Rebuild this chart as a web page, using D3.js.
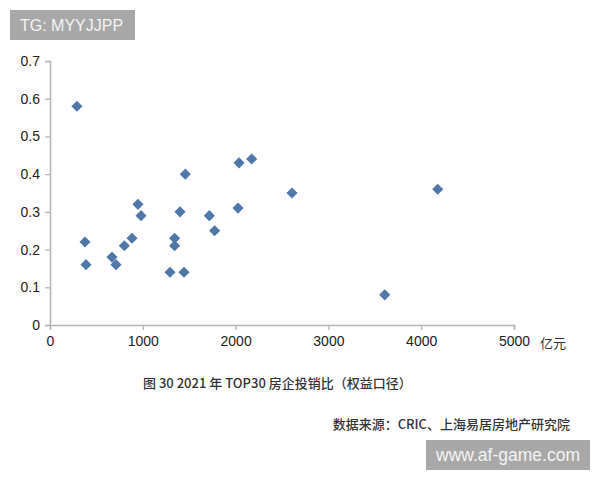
<!DOCTYPE html>
<html>
<head>
<meta charset="utf-8">
<script src="https://cdn.jsdelivr.net/npm/d3@7"></script>
<style>
  body { margin: 0; background: #fff; }
  svg { display: block; }
  .tick text { font-family: "Liberation Sans", Arial, sans-serif; font-size: 14px; fill: #222; }
</style>
</head>
<body>
<svg width="600" height="480"></svg>
<script>
// sales (亿元) vs investment/sales ratio
const sales = [290, 377, 388, 668, 711, 801, 884, 948, 981, 1293, 1343, 1343, 1401, 1444,
               1458, 1717, 1774, 2026, 2037, 2173, 2608, 3607, 4178];
const ratio = [0.58, 0.22, 0.16, 0.18, 0.16, 0.21, 0.23, 0.32, 0.29, 0.14, 0.23, 0.21, 0.30, 0.14,
               0.40, 0.29, 0.25, 0.31, 0.43, 0.44, 0.35, 0.08, 0.36];
const xTicks = [0, 1000, 2000, 3000, 4000, 5000];
const yTicks = [0, 0.1, 0.2, 0.3, 0.4, 0.5, 0.6, 0.7];

const svg = d3.select("svg");
const margin = {top: 61, right: 86, bottom: 155, left: 50};
const width = 600 - margin.left - margin.right;
const height = 480 - margin.top - margin.bottom;

const x = d3.scaleLinear().domain([0, 5000]).range([0, width]);
const y = d3.scaleLinear().domain([0, 0.7]).range([height, 0]);

const g = svg.append("g")
    .attr("transform", `translate(${margin.left},${margin.top})`);

// axes
const xAxis = g.append("g")
    .attr("transform", `translate(0,${height})`)
    .call(d3.axisBottom(x).tickValues(xTicks).tickSize(5).tickPadding(6).tickFormat(d3.format("d")));

const yAxis = g.append("g")
    .call(d3.axisLeft(y).tickValues(yTicks).tickSize(5).tickPadding(5).tickFormat(d => d === 0 ? "0" : d3.format(".1f")(d)));

[xAxis, yAxis].forEach(a => {
  a.select(".domain").attr("stroke", "#b3b3b3").attr("stroke-width", 1.5);
  a.selectAll(".tick line").attr("stroke", "#b3b3b3").attr("stroke-width", 1.2);
  a.selectAll(".tick text").attr("font-family", null).attr("font-size", null);
});

// unit label
g.append("text")
    .attr("x", width + 26)
    .attr("y", height + 23)
    .attr("font-family", "Noto Sans CJK SC")
    .attr("font-size", 13)
    .attr("fill", "#333")
    .text("亿元");

// points
const diamond = d3.symbol().type(d3.symbolSquare).size(62);
g.append("g")
  .selectAll("path")
  .data(sales)
  .enter().append("path")
    .attr("d", diamond)
    .attr("transform", (d, i) => `translate(${x(d)},${y(ratio[i])}) rotate(45)`)
    .attr("fill", "#4f78a8");

// caption and source
svg.append("text")
    .attr("x", 143)
    .attr("y", 388)
    .attr("font-family", "Noto Sans CJK SC")
    .attr("font-size", 13)
    .attr("font-weight", 500)
    .attr("fill", "#333")
    .text("图 30 2021 年 TOP30 房企投销比（权益口径）");

svg.append("text")
    .attr("x", 570)
    .attr("y", 429)
    .attr("text-anchor", "end")
    .attr("font-family", "Noto Sans CJK SC")
    .attr("font-size", 13)
    .attr("font-weight", 500)
    .attr("fill", "#333")
    .text("数据来源：CRIC、上海易居房地产研究院");

// watermarks
svg.append("rect")
    .attr("x", 10).attr("y", 10).attr("width", 125).attr("height", 30)
    .attr("fill", "#a8a8a8");
svg.append("text")
    .attr("x", 20).attr("y", 31)
    .attr("font-family", "Liberation Sans, Arial, sans-serif")
    .attr("font-size", 16)
    .attr("fill", "#f4f4f4")
    .text("TG: MYYJJPP");

svg.append("rect")
    .attr("x", 426).attr("y", 440).attr("width", 164).attr("height", 30)
    .attr("fill", "#a8a8a8");
svg.append("text")
    .attr("x", 508).attr("y", 461)
    .attr("text-anchor", "middle")
    .attr("font-family", "Liberation Sans, Arial, sans-serif")
    .attr("font-size", 17.5)
    .attr("fill", "#f4f4f4")
    .text("www.af-game.com");
</script>
</body>
</html>
